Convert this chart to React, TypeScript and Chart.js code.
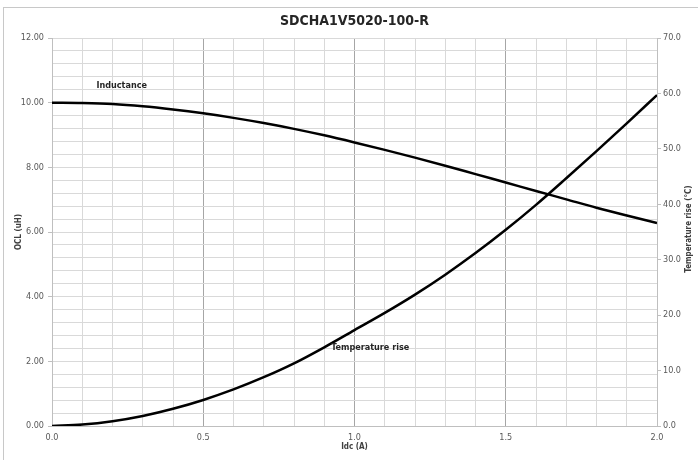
import React, { useEffect, useRef } from "react";
import { Chart, registerables } from "chart.js";

Chart.register(...registerables);

const chartTitle = "SDCHA1V5020-100-R";
const xAxisTitle = "Idc (A)";
const leftAxisTitle = "OCL (uH)";
const rightAxisTitle = "Temperature rise (°C)";
const inductanceLabel = "Inductance";
const temperatureLabel = "Temperature rise";

const currentA = [0.0, 0.1, 0.2, 0.3, 0.4, 0.5, 0.6, 0.7, 0.8, 0.9, 1.0, 1.1, 1.2, 1.3, 1.4, 1.5, 1.6, 1.7, 1.8, 1.9, 2.0];
const inductance = [10.0, 9.99, 9.96, 9.89, 9.79, 9.67, 9.53, 9.37, 9.19, 8.99, 8.77, 8.54, 8.3, 8.05, 7.79, 7.53, 7.27, 7.01, 6.75, 6.51, 6.28];
const temperatureRise = [0.0, 0.25, 0.85, 1.8, 3.1, 4.7, 6.6, 8.8, 11.3, 14.2, 17.3, 20.4, 23.7, 27.3, 31.2, 35.4, 39.9, 44.7, 49.6, 54.6, 59.7];

// label anchor positions (data coordinates)
const inductanceLabelPos = { x: 0.147, y: 10.52 };
const temperatureLabelPos = { x: 0.923, y: 14.1 };

const FONT = "'Liberation Sans Narrow', 'DejaVu Sans Condensed', 'Liberation Sans', sans-serif";

const isMult = (v: number, step: number) => Math.abs(v / step - Math.round(v / step)) < 1e-6;

const overlayPlugin = {
  id: "overlay",
  beforeDraw(chart: any) {
    const { ctx, width, height } = chart;
    ctx.save();
    ctx.fillStyle = "#ffffff";
    ctx.fillRect(0, 0, width, height);
    ctx.strokeStyle = "#c8c8c8";
    ctx.lineWidth = 1;
    ctx.strokeRect(3.5, 7.5, width + 10, height + 10);
    ctx.restore();
  },
  afterDraw(chart: any) {
    const { ctx, chartArea, scales } = chart;
    const cx = (chartArea.left + chartArea.right) / 2;
    const cy = (chartArea.top + chartArea.bottom) / 2;
    ctx.save();
    ctx.fillStyle = "#262626";
    ctx.textAlign = "center";
    ctx.textBaseline = "middle";
    ctx.font = `bold 14px ${FONT}`;
    ctx.fillText(chartTitle, cx, 21);

    ctx.font = `bold 8px ${FONT}`;
    ctx.fillStyle = "#404040";
    ctx.fillText(xAxisTitle, cx, 447);

    ctx.save();
    ctx.translate(19, cy);
    ctx.rotate(-Math.PI / 2);
    ctx.fillText(leftAxisTitle, 0, 0);
    ctx.restore();

    ctx.save();
    ctx.translate(689, cy - 3);
    ctx.rotate(-Math.PI / 2);
    ctx.fillText(rightAxisTitle, 0, 0);
    ctx.restore();

    ctx.font = `bold 9px ${FONT}`;
    ctx.fillStyle = "#262626";
    ctx.textAlign = "left";
    ctx.fillText(
      inductanceLabel,
      scales.x.getPixelForValue(inductanceLabelPos.x),
      scales.y.getPixelForValue(inductanceLabelPos.y)
    );
    ctx.fillText(
      temperatureLabel,
      scales.x.getPixelForValue(temperatureLabelPos.x),
      scales.y1.getPixelForValue(temperatureLabelPos.y)
    );
    ctx.restore();
  },
};

export default function App() {
  const ref = useRef<HTMLCanvasElement>(null);

  useEffect(() => {
    document.body.style.margin = "0";
    const canvas = ref.current!;
    const chart = new Chart(canvas, {
      type: "scatter",
      data: {
        datasets: [
          {
            label: inductanceLabel,
            data: currentA.map((x, i) => ({ x, y: inductance[i] })),
            showLine: true,
            borderColor: "#000000",
            borderWidth: 2.5,
            pointRadius: 0,
            cubicInterpolationMode: "monotone",
            yAxisID: "y",
          },
          {
            label: temperatureLabel,
            data: currentA.map((x, i) => ({ x, y: temperatureRise[i] })),
            showLine: true,
            borderColor: "#000000",
            borderWidth: 2.5,
            pointRadius: 0,
            cubicInterpolationMode: "monotone",
            yAxisID: "y1",
          },
        ],
      },
      options: {
        animation: false,
        responsive: false,
        layout: { padding: { top: 38, left: 0, right: 0, bottom: 0 } },
        plugins: {
          legend: { display: false },
          tooltip: { enabled: false },
          title: { display: false },
        },
        scales: {
          x: {
            type: "linear",
            min: 0,
            max: 2,
            afterFit: (s: any) => {
              s.height = 34;
            },
            ticks: {
              stepSize: 0.1,
              autoSkip: false,
              maxRotation: 0,
              padding: 6,
              color: "#595959",
              font: { family: FONT, size: 9 },
              callback: (v: any) => (isMult(Number(v), 0.5) ? Number(v).toFixed(1) : ""),
            },
            grid: {
              drawTicks: false,
              color: (c: any) => (c.tick && isMult(c.tick.value, 0.5) ? "#a6a6a6" : "#d9d9d9"),
            },
            border: { color: "#bfbfbf" },
          },
          y: {
            type: "linear",
            position: "left",
            min: 0,
            max: 12,
            afterFit: (s: any) => {
              s.width = 52;
            },
            ticks: {
              stepSize: 0.4,
              autoSkip: false,
              padding: 4,
              color: "#595959",
              font: { family: FONT, size: 9 },
              callback: (v: any) => (isMult(Number(v), 2) ? Number(v).toFixed(2) : ""),
            },
            grid: {
              color: "#d9d9d9",
              tickLength: 4,
              tickColor: (c: any) => (c.tick && isMult(c.tick.value, 2) ? "#bfbfbf" : "rgba(0,0,0,0)"),
            },
            border: { color: "#bfbfbf" },
          },
          y1: {
            type: "linear",
            position: "right",
            min: 0,
            max: 70,
            afterFit: (s: any) => {
              s.width = 41;
            },
            ticks: {
              stepSize: 10,
              padding: 2,
              color: "#595959",
              font: { family: FONT, size: 9 },
              callback: (v: any) => Number(v).toFixed(1),
            },
            grid: {
              drawOnChartArea: false,
              tickLength: 4,
              tickColor: "#bfbfbf",
            },
            border: { color: "#bfbfbf" },
          },
        },
      },
      plugins: [overlayPlugin],
    } as any);
    return () => chart.destroy();
  }, []);

  return (
    <div style={{ width: 698, height: 460 }}>
      <canvas ref={ref} width={698} height={460} style={{ display: "block" }} />
    </div>
  );
}
